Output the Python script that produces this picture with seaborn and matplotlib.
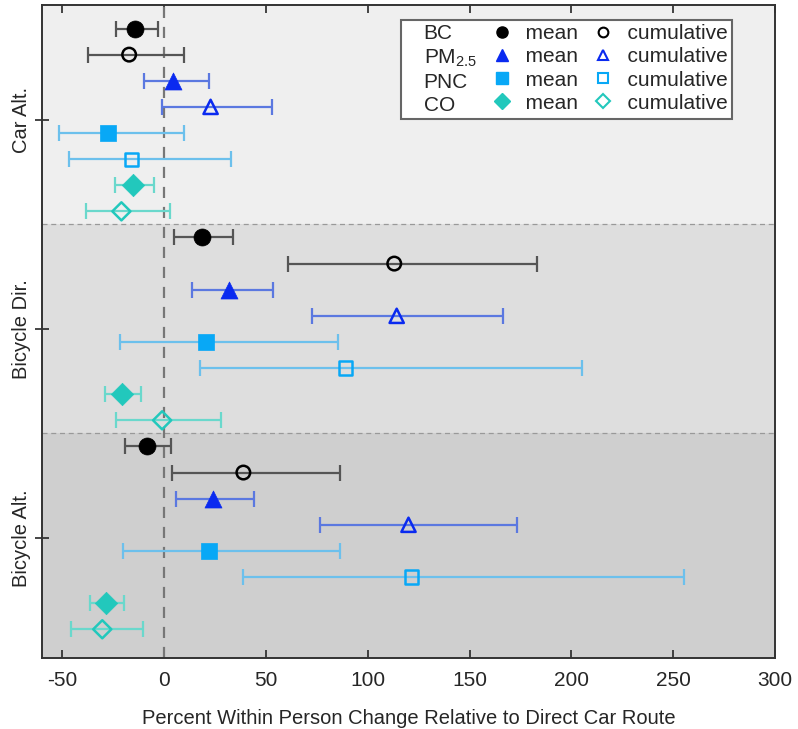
import matplotlib
matplotlib.use("Agg")
import matplotlib.pyplot as plt
from matplotlib.lines import Line2D
import seaborn as sns
import pandas as pd
import numpy as np

# ---- data (percent change) ----
routes = ["Car Alt.", "Bicycle Dir.", "Bicycle Alt."]
pollutants = ["BC", "PM$_{2.5}$", "PNC", "CO"]
kinds = ["mean", "cumulative"]

# order within each route: BC mean, BC cum, PM mean, PM cum, PNC mean, PNC cum, CO mean, CO cum
est_car = [-14.2, -17.2, 4.4, 22.8, -27.5, -16.2, -15.2, -21.0]
lo_car = [-23.5, -37.3, -9.8, -1.0, -51.6, -46.8, -24.2, -38.6]
hi_car = [-2.9, 9.8, 22.0, 52.8, 9.8, 32.8, -4.9, 2.9]

est_bdir = [18.8, 113.0, 32.0, 114.2, 20.6, 89.2, -20.6, -1.0]
lo_bdir = [5.0, 61.0, 13.7, 72.7, -21.6, 17.6, -28.9, -23.5]
hi_bdir = [34.0, 183.0, 53.4, 166.5, 85.3, 205.0, -11.3, 27.8]

est_balt = [-8.3, 38.9, 24.2, 120.0, 22.2, 121.6, -28.4, -30.4]
lo_balt = [-19.1, 3.9, 6.0, 76.5, -20.0, 38.9, -36.3, -46.0]
hi_balt = [3.4, 86.6, 44.0, 173.5, 86.6, 255.4, -19.6, -10.3]

xticks = [-50, 0, 50, 100, 150, 200, 250, 300]

# ---- styling ----
marker_of = {"BC": "o", "PM$_{2.5}$": "^", "PNC": "s", "CO": "D"}
mcolor = {"BC": "#000000", "PM$_{2.5}$": "#0a2af0", "PNC": "#08a8f6", "CO": "#22c8bc"}
ecolor = {"BC": "#555555", "PM$_{2.5}$": "#5b78e0", "PNC": "#6cc0ec", "CO": "#6ad8cc"}
msize = {"BC": 150, "PM$_{2.5}$": 150, "PNC": 140, "CO": 130}
osize = {"BC": 95, "PM$_{2.5}$": 105, "PNC": 90, "CO": 85}

rows = []
for r_i, (route, est, lo, hi) in enumerate(zip(routes,
                                               [est_car, est_bdir, est_balt],
                                               [lo_car, lo_bdir, lo_balt],
                                               [hi_car, hi_bdir, hi_balt])):
    for j in range(8):
        rows.append(dict(route=route, pollutant=pollutants[j // 2], kind=kinds[j % 2],
                         est=est[j], lo=lo[j], hi=hi[j], pos=r_i * 8 + j))
df = pd.DataFrame(rows)

sns.set_theme(style="ticks")
plt.rcParams["font.family"] = ["Liberation Sans", "DejaVu Sans"]
plt.rcParams["mathtext.default"] = "regular"

fig = plt.figure(figsize=(7.98, 7.29), dpi=100)
ax = fig.add_axes([42 / 798, 1 - 658 / 729, 733 / 798, 653 / 729])

# background bands
bands = [(-0.9, 7.5, "#efefef"), (7.5, 15.5, "#dedede"), (15.5, 24.1, "#cfcfcf")]
for a, b, c in bands:
    ax.axhspan(a, b, color=c, zorder=0, lw=0)
for yv in [7.5, 15.5]:
    ax.axhline(yv, color="#999999", lw=0.9, ls=(0, (4, 3)), zorder=1)
ax.axvline(0, color="#777777", lw=1.6, ls=(0, (5, 4)), zorder=1)

# error bars
for _, r in df.iterrows():
    ax.errorbar(r.est, r.pos, xerr=[[r.est - r.lo], [r.hi - r.est]],
                fmt="none", ecolor=ecolor[r.pollutant], elinewidth=1.6,
                capsize=5.5, capthick=1.6, zorder=2)

# markers via seaborn
for p in pollutants:
    sub_m = df[(df.pollutant == p) & (df.kind == "mean")]
    sns.scatterplot(data=sub_m, x="est", y="pos", marker=marker_of[p], color=mcolor[p],
                    s=msize[p], edgecolor=mcolor[p], linewidth=0.5, ax=ax, zorder=3,
                    legend=False)
    sub_c = df[(df.pollutant == p) & (df.kind == "cumulative")]
    sns.scatterplot(data=sub_c, x="est", y="pos", marker=marker_of[p],
                    facecolor="none", edgecolor=mcolor[p], linewidth=1.8,
                    s=osize[p], ax=ax, zorder=3, legend=False)

ax.set_xlim(-60, 300)
ax.set_ylim(24.1, -0.9)
ax.set_xticks(xticks)
ax.set_xticklabels([str(t) for t in xticks], fontsize=15)
ax.set_yticks([3.5, 11.5, 19.5])
ax.set_yticklabels(routes, rotation=90, va="center", fontsize=14.5)
ax.tick_params(axis="x", direction="in", top=True, length=6, width=1.2, pad=9)
ax.tick_params(axis="y", direction="inout", length=10, width=1.2, pad=3)
ax.set_xlabel("Percent Within Person Change Relative to Direct Car Route", fontsize=14.5,
              labelpad=14)
ax.set_ylabel("")
for s in ax.spines.values():
    s.set_linewidth(1.4)
    s.set_color("#333333")

# legend as a 4 x 3 table
blank = [Line2D([], [], ls="none") for _ in pollutants]
mean_h = [Line2D([], [], ls="none", marker=marker_of[p], color=mcolor[p], markersize=8)
          for p in pollutants]
cum_h = [Line2D([], [], ls="none", marker=marker_of[p], markerfacecolor="none",
                markeredgecolor=mcolor[p], markeredgewidth=1.5, markersize=7)
         for p in pollutants]
handles = blank + mean_h + cum_h
labels = pollutants + ["  mean"] * 4 + ["  cumulative"] * 4
leg = ax.legend(handles, labels, ncol=3, loc="upper right",
                bbox_to_anchor=(0.941, 0.977), borderaxespad=0, fontsize=15,
                frameon=True, fancybox=False, edgecolor="#666666", framealpha=1,
                handlelength=0.6, handletextpad=0.3, columnspacing=0.9,
                labelspacing=0.2, borderpad=0.2)
leg.get_frame().set_linewidth(1.5)

fig.savefig("out.png", dpi=100)
